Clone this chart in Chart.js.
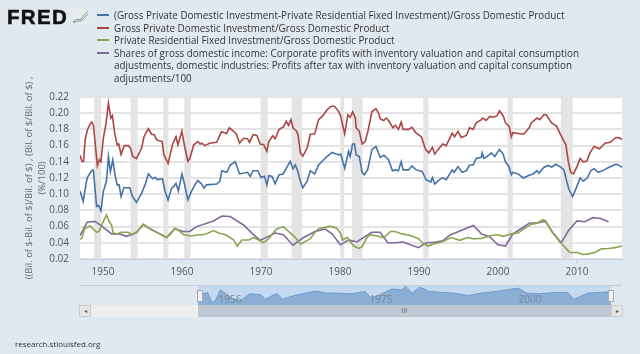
<!DOCTYPE html>
<html>
<head>
<meta charset="utf-8">
<script src="https://cdn.jsdelivr.net/npm/chart.js@4/dist/chart.umd.min.js"></script>
<style>
  html, body { margin: 0; padding: 0; }
  body { width: 640px; height: 354px; background: #e1e9f0; overflow: hidden; position: relative; font-family: "Open Sans", sans-serif; }
  #main { position: absolute; left: 0; top: 0; }
  #logo { position: absolute; left: 7px; top: 5px; font: bold 20.5px "Liberation Sans", sans-serif; color: #111; letter-spacing: 1.3px; -webkit-text-stroke: 0.5px #111; }
  #icon { position: absolute; left: 72px; top: 9px; }
  #legend { position: absolute; left: 97px; top: 9px; width: 500px; font-size: 9.87px; line-height: 12.3px; color: #333; }
  #legend div { position: relative; padding-left: 17px; margin-bottom: 0.4px; }
  #legend i { position: absolute; left: 0; top: 5px; width: 12px; height: 2px; }
  #navCanvasWrap { position: absolute; left: 198px; top: 285px; width: 413px; height: 20px; }
  .box { position: absolute; }
  .navLabel { position: absolute; top: 292px; font-size: 10px; color: #7a8a9a; transform: translateX(-50%); }
  #footer { position: absolute; left: 15px; top: 338px; font-size: 8px; color: #333; }
</style>
</head>
<body>
<canvas id="main" width="640" height="354"></canvas>
<div id="logo">FRED</div>
<svg id="icon" width="17" height="15">
  <rect width="17" height="15" fill="#e9ecef"/>
  <polyline points="1,13 5,10 8,11 12,6 16,2" fill="none" stroke="#7fa06a" stroke-width="1"/>
  <polyline points="1,14 5,12 9,12 12,9 16,5" fill="none" stroke="#6f8fb8" stroke-width="1"/>
</svg>
<div id="legend"></div>

<div class="box" style="left:80px;top:285px;width:542px;height:1px;background:#c8ccd0"></div>
<div class="box" style="left:198px;top:286px;width:413px;height:19px;background:#c5daf0"></div>
<div id="navCanvasWrap"><canvas id="nav" width="413" height="20"></canvas></div>
<div class="box" style="left:80px;top:305px;width:118px;height:12px;background:#eeeeee"></div>
<div class="box" style="left:79px;top:305px;width:10px;height:10px;background:#e6e6e6;border:1px solid #ccc;font:6px/10px 'Liberation Sans';text-align:center;color:#555">◂</div>
<div class="box" style="left:198px;top:305px;width:413px;height:12px;background:#bfc8d2;font:7px/12px 'Liberation Sans';text-align:center;color:#777">III</div>
<div class="box" style="left:611px;top:305px;width:10px;height:10px;background:#e6e6e6;border:1px solid #ccc;font:6px/10px 'Liberation Sans';text-align:center;color:#555">▸</div>
<div class="box" style="left:197px;top:290px;width:4px;height:10px;background:#f0f0f0;border:1px solid #aaa"></div>
<div class="box" style="left:608px;top:290px;width:4px;height:10px;background:#f0f0f0;border:1px solid #aaa"></div>
<div id="footer">research.stlouisfed.org</div>

<script>
const seriesNames = [
  '(Gross Private Domestic Investment-Private Residential Fixed Investment)/Gross Domestic Product',
  'Gross Private Domestic Investment/Gross Domestic Product',
  'Private Residential Fixed Investment/Gross Domestic Product',
  'Shares of gross domestic income: Corporate profits with inventory valuation and capital consumption adjustments, domestic industries: Profits after tax with inventory valuation and capital consumption adjustments/100'
];
const seriesColors = ['#4572a7', '#aa4643', '#89a54e', '#80699b'];

const yAxisTitle = ['((Bil. of $-Bil. of $)/Bil. of $) , (Bil. of $/Bil. of $) ,', '(%/100)'];
const yearTicks = [1950, 1960, 1970, 1980, 1990, 2000, 2010];

const recessionStart = [1948.87, 1953.5, 1957.63, 1960.29, 1969.96, 1973.87, 1980.04, 1981.54, 1990.54, 2001.21, 2007.96];
const recessionEnd = [1949.79, 1954.38, 1958.29, 1961.12, 1970.87, 1975.21, 1980.54, 1982.87, 1991.21, 2001.87, 2009.46];

const redYears = [1947.1,1947.35,1947.55,1947.75,1948.05,1948.4,1948.6,1948.8,1949,1949.3,1949.55,1949.75,1950.05,1950.4,1950.7,1951,1951.2,1951.5,1951.8,1952,1952.3,1952.7,1953.2,1953.5,1953.75,1954.25,1954.9,1955.2,1955.75,1956.15,1956.5,1956.8,1957.5,1957.7,1958.25,1958.8,1959.25,1959.5,1960,1960.3,1960.75,1961,1961.5,1962,1962.3,1962.5,1962.9,1963.5,1964.4,1965,1965.65,1966,1966.5,1966.9,1967.3,1967.8,1968.3,1968.55,1969,1969.5,1969.9,1970.35,1970.75,1971,1971.5,1971.8,1972.3,1972.85,1973.2,1973.5,1973.8,1974.05,1974.5,1974.7,1975,1975.3,1975.85,1976.25,1976.8,1977.3,1977.85,1978.35,1978.85,1979.3,1979.85,1980.1,1980.6,1981,1981.3,1981.6,1981.95,1982.05,1982.45,1982.8,1983.2,1983.55,1984.05,1984.55,1984.9,1985.1,1985.55,1985.85,1986.15,1986.7,1987,1987.4,1987.75,1988,1988.7,1989.1,1989.65,1990.3,1990.85,1991.25,1991.7,1992,1992.4,1993,1993.45,1994.2,1994.5,1994.95,1995.35,1996,1996.4,1996.85,1997.25,1997.9,1998.1,1998.5,1998.95,1999.45,1999.9,2000.2,2000.7,2000.95,2001.4,2001.7,2001.9,2002.55,2003.25,2004,2004.2,2004.95,2005.3,2005.8,2006.1,2006.8,2007.4,2008.05,2008.6,2008.9,2009.2,2009.55,2010,2010.4,2010.8,2011.25,2011.65,2012.15,2012.85,2013.55,2014.2,2014.95,2015.45,2015.7];
const redValues = [.148,.1405,.1405,.167,.18,.187,.189,.185,.165,.135,.1425,.14,.169,.188,.2125,.194,.197,.175,.161,.162,.149,.16,.16,.157,.147,.144,.157,.171,.181,.174,.1735,.167,.165,.149,.138,.161,.171,.161,.178,.161,.1405,.144,.161,.165,.162,.163,.16,.163,.164,.177,.175,.182,.178,.174,.163,.169,.1685,.164,.1735,.1725,.162,.161,.153,.165,.172,.1685,.18,.183,.19,.185,.192,.182,.178,.173,.151,.147,.157,.174,.1745,.192,.197,.204,.2085,.2085,.202,.196,.1745,.198,.195,.2015,.194,.182,.178,.162,.165,.178,.202,.2055,.2,.193,.191,.194,.191,.182,.185,.18,.189,.18,.18,.1825,.1755,.171,.155,.151,.158,.1495,.155,.162,.16,.1755,.171,.1775,.17,.1725,.182,.18,.188,.192,.194,.191,.196,.195,.197,.203,.196,.188,.184,.171,.176,.175,.174,.1825,.188,.194,.192,.198,.198,.188,.184,.171,.161,.1405,.127,.125,.134,.144,.14,.141,.151,.159,.156,.163,.164,.17,.1695,.167];

const blueYears = [1947.1,1947.5,1947.7,1948,1948.45,1948.7,1948.8,1949.2,1949.45,1949.75,1950.05,1950.45,1950.7,1950.95,1951.25,1951.5,1951.8,1952.05,1952.3,1952.65,1953.4,1953.75,1954.25,1954.9,1955.4,1955.75,1956.3,1956.6,1956.9,1957.55,1957.85,1958.25,1958.7,1959,1959.25,1959.55,1960,1960.3,1960.75,1961.2,1961.65,1962,1962.5,1962.8,1963.1,1964.4,1964.8,1965.05,1965.7,1966.1,1966.75,1967.3,1968.3,1968.65,1969,1969.6,1970,1970.45,1970.75,1971,1971.4,1971.8,1972.3,1972.8,1973.2,1973.7,1974.05,1974.35,1974.65,1975,1975.3,1975.85,1976.25,1976.8,1977.3,1977.7,1978.35,1979,1979.85,1980.1,1980.6,1981.1,1981.3,1981.6,1981.85,1982.05,1982.45,1982.8,1983.1,1983.5,1984.05,1984.55,1985.1,1985.55,1985.85,1986.15,1986.65,1987,1987.4,1987.75,1988,1988.7,1989.1,1989.65,1990.4,1990.9,1991.5,1991.7,1992,1992.4,1993,1993.45,1994.2,1994.45,1994.95,1995.45,1996,1996.4,1996.85,1997.25,1997.9,1998,1998.25,1998.95,1999.15,1999.6,1999.9,2000.2,2000.65,2000.95,2001.4,2001.7,2001.9,2002.55,2003.2,2003.95,2004.45,2004.95,2005.2,2005.8,2006.35,2006.8,2007.3,2007.85,2008.35,2008.7,2009,2009.45,2009.9,2010.4,2010.8,2011.3,2011.75,2012.15,2012.7,2013.45,2014,2014.95,2015.45,2015.7];
const blueValues = [.104,.091,.103,.12,.1275,.13,.129,.085,.086,.0795,.1035,.116,.1465,.128,.1425,.126,.1115,.1115,.097,.108,.108,.097,.09,.101,.1135,.125,.119,.121,.118,.119,.104,.093,.1075,.11,.1135,.104,.125,.1135,.093,.1035,.1115,.117,.1125,.1075,.1115,.1125,.116,.129,.127,.136,.14,.125,.127,.122,.129,.129,.1205,.122,.1115,.123,.122,.113,.124,.125,.132,.1405,.1315,.136,.129,.116,.108,.116,.129,.125,.136,.14,.1465,.1515,.1485,.1495,.132,.153,.1465,.162,.162,.1485,.1465,.127,.124,.13,.155,.159,.1455,.148,.1455,.1425,.129,.13,.129,.14,.13,.13,.135,.13,.128,.118,.115,.1205,.1125,.1165,.1205,.118,.13,.127,.134,.127,.129,.136,.136,.144,.1455,.151,.144,.149,.151,.1465,.151,.155,.1495,.14,.134,.124,.127,.125,.12,.1235,.125,.129,.126,.133,.1355,.1335,.137,.134,.13,.116,.1055,.097,.1075,.12,.116,.12,.129,.1315,.127,.13,.133,.137,.135,.133];

const greenYears = [1947.1,1947.35,1947.65,1948,1948.35,1948.75,1949.2,1949.5,1950.05,1950.45,1950.8,1951.1,1951.3,1951.75,1952.35,1953.2,1953.7,1954.25,1954.7,1955.1,1955.75,1956.6,1957.2,1958.05,1958.5,1959.1,1959.6,1960.25,1961.2,1962.05,1962.7,1963.35,1964,1964.65,1965.5,1966.1,1966.55,1967,1967.6,1968.45,1969.05,1969.7,1970.35,1971,1972,1972.85,1973.5,1974.35,1975,1975.6,1976.25,1976.8,1977.3,1978.15,1978.7,1979.6,1980.05,1980.35,1980.9,1981.75,1982.35,1982.8,1983.4,1983.85,1984.7,1985.55,1986.4,1987,1987.85,1988.9,1989.95,1990.5,1991.15,1992,1993,1994.1,1995.15,1996.2,1996.85,1997.9,1999.15,2000,2000.65,2001.7,2002.55,2003.4,2004.2,2004.85,2005.7,2006.05,2006.8,2007.85,2008.45,2009.1,2010,2010.8,2011.4,2012.25,2013.1,2014,2014.8,2015.7];
const greenValues = [.0445,.046,.057,.059,.061,.057,.053,.054,.0665,.0745,.066,.062,.052,.051,.053,.053,.05,.0535,.058,.063,.059,.054,.051,.0465,.05,.058,.055,.05,.0485,.05,.05,.052,.055,.052,.05,.0465,.0435,.036,.0435,.0435,.0465,.0435,.04,.0455,.057,.06,.054,.0465,.0385,.0415,.045,.0525,.0575,.059,.0605,.058,.052,.0435,.0465,.036,.033,.035,.0465,.05,.0485,.0465,.054,.054,.051,.049,.045,.0395,.036,.039,.0415,.0465,.043,.0465,.045,.0455,.049,.05,.048,.051,.052,.058,.063,.064,.0685,.067,.054,.041,.035,.028,.028,.0255,.026,.028,.0325,.033,.034,.036];

const purpleYears = [1947.1,1947.5,1948,1949,1949.6,1951.1,1952.1,1953,1954.25,1955.1,1956.15,1957.2,1958.05,1959.1,1960.15,1961,1961.85,1964,1965.05,1966.1,1967.8,1968.85,1969.9,1971.8,1972.85,1974.05,1975.4,1976.85,1978.15,1979,1980.05,1981.1,1982.15,1983.2,1984.05,1985.1,1986.05,1987,1988,1988.9,1989.95,1990.9,1992,1993,1994,1996.9,1997.9,1998.95,2000,2000.95,2001.9,2003,2004,2005,2006,2007,2008,2009,2010,2011,2012,2013,2014];
const purpleValues = [.049,.056,.0655,.0665,.0625,.051,.051,.048,.0525,.0625,.056,.051,.0465,.0575,.054,.054,.06,.067,.073,.0725,.062,.052,.043,.052,.05,.037,.0465,.054,.057,.051,.0375,.0435,.041,.048,.053,.053,.04,.04,.041,.0375,.034,.04,.0405,.0425,.05,.0615,.051,.0475,.0375,.036,.051,.058,.0645,.0645,.0665,.052,.04,.056,.067,.066,.071,.07,.066];

const navYears = [1947,1947.8,1948.6,1949.3,1949.8,1950.7,1951.5,1952.8,1954.1,1955.6,1957.5,1958.2,1959.6,1960.2,1961,1962.9,1965.3,1966.7,1968.4,1970.4,1972.5,1974.8,1975.7,1977.2,1979.2,1980.9,1981.6,1982.6,1983.9,1985.4,1987.7,1989.5,1991.8,1994.2,1996.6,2000.3,2001.7,2003.8,2006.5,2008.5,2009.5,2011.9,2015.7];
const navValues = [.034,.112,.125,.024,.034,.153,.119,.058,.044,.112,.102,.058,.102,.112,.058,.092,.125,.139,.119,.119,.112,.136,.068,.102,.159,.153,.186,.119,.18,.136,.125,.119,.095,.119,.136,.169,.119,.112,.125,.125,.058,.119,.132];
const navLabels = ['1956', '1975', '2000'];
const navLabelX = [230, 381, 530];

const pairs = (xs, ys) => xs.map((x, i) => ({x: x, y: ys[i]}));

// legend and range labels are plain html
const legendBox = document.getElementById('legend');
seriesNames.forEach((name, i) => {
    const row = document.createElement('div');
    row.innerHTML = '<i style="background:' + seriesColors[i] + '"></i>' + name;
    legendBox.appendChild(row);
});
navLabels.forEach((text, i) => {
    const label = document.createElement('div');
    label.className = 'navLabel';
    label.style.left = navLabelX[i] + 'px';
    label.textContent = text;
    document.body.appendChild(label);
});

const plotBackground = {
    id: 'plotBackground',
    beforeDraw: (chart) => {
        const {ctx, chartArea: a} = chart;
        ctx.save();
        ctx.fillStyle = '#ffffff';
        ctx.fillRect(a.left, a.top, a.right - a.left, a.bottom - a.top);
        ctx.restore();
    }
};

const recessions = {
    id: 'recessions',
    beforeDatasetsDraw: (chart) => {
        const {ctx, chartArea: a, scales} = chart;
        ctx.save();
        ctx.fillStyle = '#e4e4e4';
        recessionStart.forEach((start, i) => {
            const x0 = scales.x.getPixelForValue(start);
            const x1 = scales.x.getPixelForValue(recessionEnd[i]);
            ctx.fillRect(x0, a.top, x1 - x0, a.bottom - a.top);
        });
        ctx.restore();
    }
};

const lineDataset = (name, color, xs, ys) => ({
    label: name,
    data: pairs(xs, ys),
    borderColor: color,
    borderWidth: 1.6,
    pointRadius: 0,
    tension: 0
});

Chart.defaults.font.family = '"Open Sans", sans-serif';
Chart.defaults.animation = false;

new Chart(document.getElementById('main'), {
    type: 'line',
    data: {
        datasets: [
            lineDataset(seriesNames[0], seriesColors[0], blueYears, blueValues),
            lineDataset(seriesNames[1], seriesColors[1], redYears, redValues),
            lineDataset(seriesNames[2], seriesColors[2], greenYears, greenValues),
            lineDataset(seriesNames[3], seriesColors[3], purpleYears, purpleValues)
        ]
    },
    options: {
        responsive: false,
        layout: {padding: {top: 97, right: 18, left: 0, bottom: 0}},
        plugins: {legend: {display: false}, tooltip: {enabled: false}},
        scales: {
            x: {
                type: 'linear',
                min: 1947.1,
                max: 2015.7,
                afterBuildTicks: (axis) => { axis.ticks = yearTicks.map(v => ({value: v})); },
                afterFit: (axis) => { axis.height = 95; },
                grid: {drawOnChartArea: false, color: '#c0d0e0', tickLength: 4},
                border: {color: '#c0d0e0'},
                ticks: {
                    maxRotation: 0,
                    padding: 3,
                    color: '#555555',
                    font: {size: 10},
                    callback: (value) => String(value)
                }
            },
            y: {
                min: 0.02,
                max: 0.22,
                afterFit: (axis) => { axis.width = 80; },
                grid: {color: '#e3e3e3', lineWidth: 2, drawTicks: false},
                border: {display: false},
                ticks: {
                    stepSize: 0.02,
                    padding: 11,
                    color: '#555555',
                    font: {size: 10},
                    callback: (value) => value.toFixed(2)
                },
                title: {
                    display: true,
                    text: yAxisTitle,
                    color: '#666666',
                    font: {size: 9.5, lineHeight: 1.35},
                    padding: {top: 23, bottom: 0}
                }
            }
        }
    },
    plugins: [plotBackground, recessions]
});

new Chart(document.getElementById('nav'), {
    type: 'line',
    data: {
        datasets: [{
            data: pairs(navYears, navValues),
            borderColor: '#6f9bcb',
            borderWidth: 1,
            backgroundColor: '#8aaed4',
            fill: 'origin',
            pointRadius: 0,
            tension: 0
        }]
    },
    options: {
        responsive: false,
        plugins: {legend: {display: false}, tooltip: {enabled: false}},
        scales: {
            x: {type: 'linear', min: 1947, max: 2015.7, display: false},
            y: {min: 0, max: 0.2, display: false}
        }
    }
});
</script>
</body>
</html>
